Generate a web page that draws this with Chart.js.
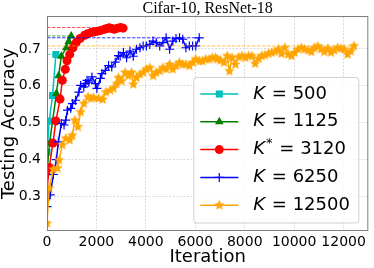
<!DOCTYPE html>
<html>
<head>
<meta charset="utf-8">
<script src="https://cdn.jsdelivr.net/npm/chart.js@4.4.0/dist/chart.umd.min.js"></script>
<style>
    html, body { margin: 0; padding: 0; background: #fff; }
    #wrap { width: 374px; height: 268px; }
</style>
</head>
<body>
<div id="wrap"><canvas id="accChart" width="374" height="268"></canvas></div>
<script>
const chartTitle = "Cifar-10, ResNet-18";
const xTicks = [0, 2000, 4000, 6000, 8000, 10000, 12000];
const yTicks = [0.3, 0.4, 0.5, 0.6, 0.7];
const kValues = [500, 1125, 3120, 6250, 12500];
const kIsOptimal = [false, false, true, false, false];

// K = 500
const iterK500 = [0, 90, 225, 360];
const accK500 = [0.42, 0.505, 0.574, 0.685];

// K = 1125
const iterK1125 = [0, 100, 380, 470, 580, 780, 880, 980];
const accK1125 = [0.365, 0.444, 0.579, 0.627, 0.68, 0.703, 0.72, 0.735];

// K* = 3120
const iterK3120 = [0, 90, 240, 360, 530, 620, 740, 810, 920, 1050, 1180, 1340, 1520, 1650,
    1780, 1920, 2050, 2180, 2320, 2420, 2520, 2620, 2720, 2850, 2980, 3080];
const accK3120 = [0.318, 0.379, 0.445, 0.505, 0.564, 0.615, 0.645, 0.668, 0.685, 0.703, 0.717,
    0.728, 0.737, 0.741, 0.744, 0.746, 0.748, 0.75, 0.753, 0.755, 0.757, 0.755, 0.753, 0.756,
    0.758, 0.756];

// K = 6250
const iterK6250 = [0, 130, 260, 380, 460, 580, 690, 760, 830, 960, 1030, 1160, 1290, 1360,
    1490, 1560, 1620, 1690, 1820, 1960, 2020, 2160, 2220, 2360, 2490, 2620, 2760, 2890, 2960,
    3090, 3220, 3360, 3490, 3620, 3760, 3890, 4020, 4160, 4290, 4420, 4560, 4690, 4820, 4960,
    5090, 5220, 5360, 5490, 5620, 5760, 5890, 6020, 6160];
const accK6250 = [0.273, 0.305, 0.36, 0.4, 0.448, 0.498, 0.494, 0.507, 0.534, 0.539, 0.552,
    0.561, 0.583, 0.601, 0.597, 0.606, 0.615, 0.61, 0.624, 0.606, 0.593, 0.62, 0.633, 0.642,
    0.655, 0.651, 0.664, 0.682, 0.68, 0.69, 0.676, 0.694, 0.68, 0.699, 0.703, 0.708, 0.708,
    0.712, 0.721, 0.717, 0.708, 0.717, 0.73, 0.699, 0.721, 0.728, 0.73, 0.726, 0.703, 0.708,
    0.708, 0.708, 0.73];

// K = 12500
const iterK12500 = [0, 90, 260, 420, 490, 620, 760, 920, 1020, 1130, 1250, 1360, 1490, 1660,
    1780, 1890, 2090, 2250, 2380, 2560, 2690, 2820, 2890, 3020, 3160, 3290, 3420, 3490, 3620,
    3760, 3890, 4020, 4160, 4290, 4420, 4560, 4690, 4820, 4960, 5090, 5220, 5360, 5490, 5620,
    5760, 5890, 6020, 6160, 6290, 6420, 6560, 6690, 6820, 6890, 7020, 7160, 7290, 7380, 7490,
    7620, 7760, 7890, 8020, 8160, 8290, 8420, 8560, 8690, 8820, 8960, 9090, 9220, 9360, 9490,
    9620, 9760, 9890, 10020, 10160, 10290, 10420, 10560, 10690, 10820, 10960, 11090, 11220,
    11360, 11490, 11620, 11760, 11890, 12020, 12160, 12290, 12420];
const accK12500 = [0.228, 0.323, 0.374, 0.377, 0.399, 0.44, 0.458, 0.453, 0.466, 0.507, 0.489,
    0.529, 0.552, 0.57, 0.566, 0.568, 0.566, 0.563, 0.583, 0.588, 0.593, 0.606, 0.622, 0.613,
    0.636, 0.627, 0.636, 0.604, 0.622, 0.631, 0.636, 0.645, 0.649, 0.627, 0.636, 0.64, 0.649,
    0.645, 0.658, 0.645, 0.654, 0.663, 0.658, 0.658, 0.654, 0.663, 0.672, 0.667, 0.667, 0.672,
    0.672, 0.676, 0.676, 0.672, 0.669, 0.663, 0.681, 0.64, 0.676, 0.658, 0.678, 0.681, 0.676,
    0.681, 0.681, 0.66, 0.674, 0.681, 0.683, 0.687, 0.69, 0.692, 0.699, 0.687, 0.703, 0.685,
    0.681, 0.69, 0.699, 0.703, 0.699, 0.696, 0.692, 0.703, 0.707, 0.699, 0.692, 0.701, 0.69,
    0.696, 0.703, 0.701, 0.699, 0.685, 0.694, 0.708];

const seriesIters = [iterK500, iterK1125, iterK3120, iterK6250, iterK12500];
const seriesAccs = [accK500, accK1125, accK3120, accK6250, accK12500];

document.addEventListener("DOMContentLoaded", function () {
    Chart.defaults.font.family = "'DejaVu Sans', sans-serif";
    Chart.defaults.color = "#000";

    // filled 5-point star like matplotlib's '*' marker
    function makeStar(color, r) {
        const c = document.createElement("canvas");
        const s = Math.ceil(r * 2 + 2);
        c.width = s;
        c.height = s;
        const g = c.getContext("2d");
        g.beginPath();
        for (let i = 0; i < 10; i++) {
            const rad = i % 2 === 0 ? r : r * 0.45;
            const a = -Math.PI / 2 + i * Math.PI / 5;
            g.lineTo(s / 2 + rad * Math.cos(a), s / 2 + rad * Math.sin(a));
        }
        g.closePath();
        g.fillStyle = color;
        g.fill();
        return c;
    }

    const colors = ["#00bfbf", "#008000", "#ff0000", "#0000ff", "#ffa500"];
    const dashColors = ["rgba(0,191,191,0.7)", "rgba(0,128,0,0.7)", "rgba(255,0,0,0.7)",
        "rgba(0,0,255,0.8)", "rgba(255,165,0,0.7)"];
    const markers = ["rect", "triangle", "circle", "cross", makeStar("#ffa500", 5.5)];
    const markerSize = [5, 5, 4.5, 4.5, 5.5];

    const datasets = [];
    seriesIters.forEach(function (iters, i) {
        datasets.push({
            label: "K = " + kValues[i],
            data: iters.map((x, j) => ({ x: x, y: seriesAccs[i][j] })),
            borderColor: colors[i],
            backgroundColor: colors[i],
            borderWidth: 1.5,
            pointStyle: markers[i],
            pointRadius: markerSize[i],
            pointBorderWidth: i === 3 ? 1.2 : 0,
            pointBackgroundColor: colors[i],
            pointBorderColor: colors[i],
            tension: 0,
            order: 10 - i,
        });
    });
    // dashed line at each run's best accuracy
    seriesIters.forEach(function (iters, i) {
        const best = Math.max.apply(null, seriesAccs[i]);
        datasets.push({
            label: "best" + i,
            data: [{ x: 0, y: best }, { x: iters[iters.length - 1], y: best }],
            borderColor: dashColors[i],
            borderWidth: 1,
            borderDash: [3.5, 1.5],
            pointRadius: 0,
            order: 0,
        });
    });

    const extrasPlugin = {
        id: "extras",
        afterDraw(chart) {
            const ctx = chart.ctx;
            const a = chart.chartArea;
            ctx.save();

            // axes frame
            ctx.strokeStyle = "#7f7f7f";
            ctx.lineWidth = 1;
            ctx.strokeRect(a.left + 0.5, a.top + 0.5, a.right - a.left - 1, a.bottom - a.top - 1);

            // title
            ctx.fillStyle = "#000";
            ctx.font = "16px 'Liberation Serif', serif";
            ctx.textAlign = "center";
            ctx.textBaseline = "alphabetic";
            ctx.fillText(chartTitle, (a.left + a.right) / 2, 13);

            // legend box
            const bx1 = a.right - 10, bx0 = bx1 - 165;
            const by1 = a.bottom - 8.5, by0 = by1 - 145.5;
            ctx.beginPath();
            ctx.roundRect(bx0 + 0.5, by0 + 0.5, bx1 - bx0, by1 - by0, 3);
            ctx.fillStyle = "rgba(255,255,255,0.85)";
            ctx.fill();
            ctx.strokeStyle = "#d0d0d0";
            ctx.stroke();

            for (let i = 0; i < kValues.length; i++) {
                const ds = chart.data.datasets[i];
                const cy = by0 + 17 + i * 27.8;
                ctx.strokeStyle = ds.borderColor;
                ctx.lineWidth = ds.borderWidth;
                ctx.setLineDash([]);
                ctx.beginPath();
                ctx.moveTo(bx0 + 7, cy);
                ctx.lineTo(bx0 + 45, cy);
                ctx.stroke();
                ctx.fillStyle = ds.pointBackgroundColor;
                ctx.strokeStyle = ds.pointBorderColor;
                ctx.lineWidth = ds.pointBorderWidth || 1;
                Chart.helpers.drawPoint(ctx, {
                    pointStyle: ds.pointStyle,
                    radius: ds.pointRadius,
                    borderWidth: ds.pointBorderWidth,
                    rotation: 0,
                }, bx0 + 26, cy);

                let tx = bx0 + 60;
                ctx.fillStyle = "#000";
                ctx.textAlign = "left";
                ctx.textBaseline = "middle";
                ctx.font = "italic 18px 'DejaVu Sans'";
                ctx.fillText("K", tx, cy);
                tx += ctx.measureText("K").width;
                if (kIsOptimal[i]) {
                    ctx.font = "13px 'DejaVu Sans'";
                    ctx.fillText("*", tx + 1, cy - 6);
                    tx += ctx.measureText("*").width + 1;
                }
                ctx.font = "18px 'DejaVu Sans'";
                ctx.fillText(" = " + kValues[i], tx + 1, cy);
            }
            ctx.restore();
        },
    };

    new Chart(document.getElementById("accChart"), {
        type: "line",
        data: { datasets: datasets },
        plugins: [extrasPlugin],
        options: {
            responsive: false,
            animation: false,
            devicePixelRatio: 1,
            layout: { padding: { top: 16, right: 1, left: 0, bottom: 0 } },
            plugins: {
                legend: { display: false },
                tooltip: { enabled: false },
            },
            scales: {
                x: {
                    type: "linear",
                    min: 0,
                    max: 13000,
                    afterBuildTicks: function (scale) {
                        scale.ticks = xTicks.map(v => ({ value: v }));
                    },
                    afterFit: function (scale) {
                        scale.height = 37;
                    },
                    grid: { color: "rgba(170,170,170,0.45)", drawTicks: false },
                    border: { display: false, dash: [2, 1.5] },
                    ticks: {
                        font: { size: 14 },
                        padding: 3,
                        maxRotation: 0,
                        callback: v => String(v),
                    },
                    title: {
                        display: true,
                        text: "Iteration",
                        font: { size: 18 },
                        padding: { top: 0, bottom: 0 },
                    },
                },
                y: {
                    type: "linear",
                    min: 0.207,
                    max: 0.789,
                    afterBuildTicks: function (scale) {
                        scale.ticks = yTicks.map(v => ({ value: v }));
                    },
                    afterFit: function (scale) {
                        scale.width = 47;
                    },
                    grid: { color: "rgba(170,170,170,0.45)", drawTicks: false },
                    border: { display: false, dash: [2, 1.5] },
                    ticks: {
                        font: { size: 14 },
                        padding: 6,
                        callback: v => v.toFixed(1),
                    },
                    title: {
                        display: true,
                        text: "Testing Accuracy",
                        font: { size: 18, lineHeight: 1 },
                        padding: { top: 0, bottom: 0 },
                    },
                },
            },
        },
    });
});
</script>
</body>
</html>
